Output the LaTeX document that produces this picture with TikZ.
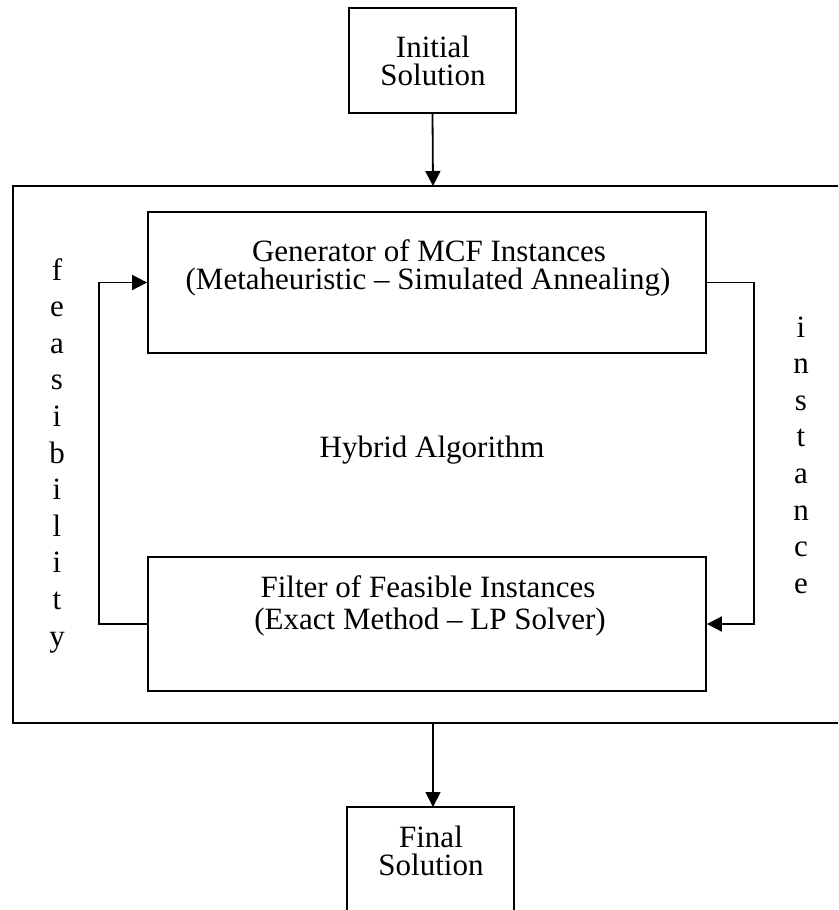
\documentclass[tikz,border=0pt]{standalone}
\usepackage{fontspec}
\setmainfont{Liberation Serif}
\usetikzlibrary{arrows.meta}
\begin{document}
\begin{tikzpicture}[x=1pt,y=-1pt,
  boxst/.style={draw, line width=1.8pt, inner sep=0pt},
  txt/.style={font=\fontsize{31}{36}\selectfont, anchor=base, inner sep=0pt},
  ln/.style={line width=1.8pt},
  link/.style={line width=1.8pt, -{Triangle[length=15pt,width=15pt]}}]
\useasboundingbox (0,0) rectangle (838,910);
% initial solution
\node[boxst, minimum width=167pt, minimum height=105pt] (init) at (432.5,60.5) {};
\node[txt] (init1) at (433,57) {Initial};
\node[txt] (init2) at (433,85) {Solution};
% outer hybrid frame (cut at right edge)
\draw[ln] (838,186) -- (13,186) -- (13,723) -- (838,723);
\coordinate (outtop) at (433,186);
\coordinate (outbot) at (433,723);
% generator
\node[boxst, minimum width=558pt, minimum height=141pt] (gen) at (427,282.5) {};
\node[txt] (gen1) at (429,261) {Generator of MCF Instances};
\node[txt] (gen2) at (428,289) {(Metaheuristic – Simulated Annealing)};
% filter
\node[boxst, minimum width=558pt, minimum height=134pt] (fil) at (427,624) {};
\node[txt] (fil1) at (428,597) {Filter of Feasible Instances};
\node[txt] (fil2) at (430,629) {(Exact Method – LP Solver)};
% label
\node[txt] (hyb) at (432,457) {Hybrid Algorithm};
% final solution (cut at bottom edge)
\draw[ln] (347,910) -- (347,807) -- (514,807) -- (514,910);
\coordinate (fintop) at (433,807);
\node[txt] (fin1) at (431,847) {Final};
\node[txt] (fin2) at (431,875) {Solution};
% connectors
\draw[link] (init.south) -- (outtop);
\draw[link] (outbot) -- (fintop);
\draw[link] (fil.west) -- ++(-48,0) |- (gen.west);
\draw[link] (gen.east) -- ++(47,0) |- (fil.east);
% vertical words
\foreach \c [count=\i] in {f,e,a,s,i,b,i,l,i,t,y}
  \node[txt] (fz\i) at ({57},{280+36.6*(\i-1)}) {\c};
\foreach \c [count=\i] in {i,n,s,t,a,n,c,e}
  \node[txt] (in\i) at ({801},{337+36.6*(\i-1)}) {\c};
\end{tikzpicture}
\end{document}
